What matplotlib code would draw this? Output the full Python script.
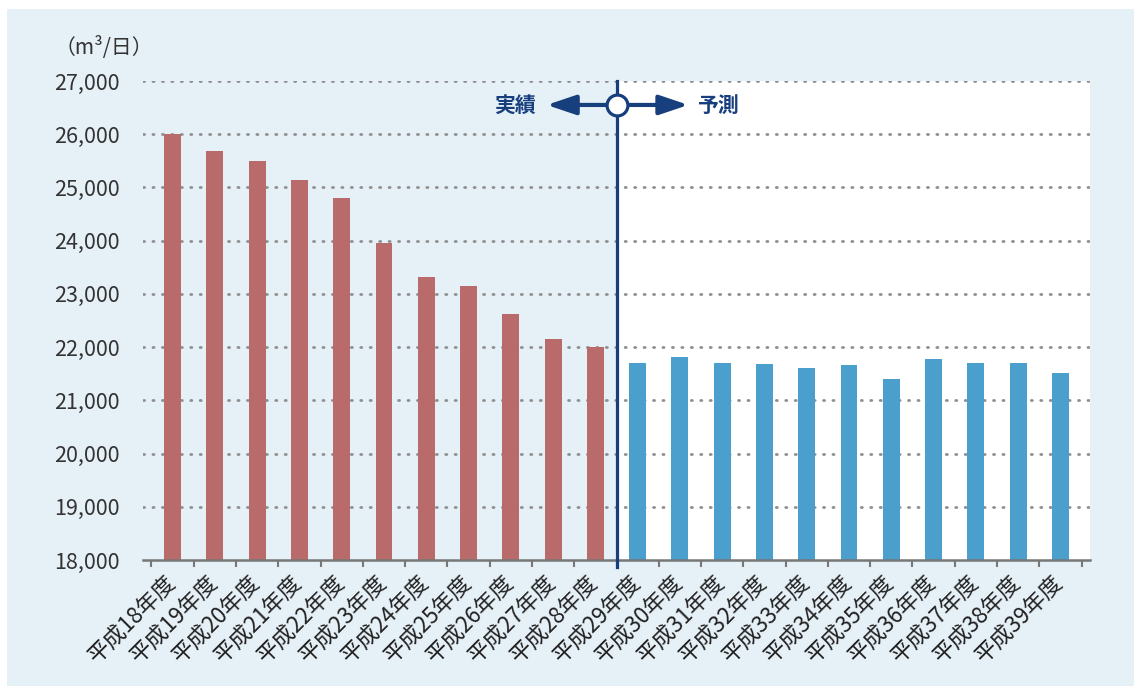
import numpy as np
import matplotlib.pyplot as plt
from matplotlib.patches import Rectangle

plt.rcParams['font.family'] = ['Noto Sans CJK JP', 'DejaVu Sans']

# 年度ラベル
years = ["平成%d年度" % n for n in range(18, 40)]
# 実績 (平成18-28年度)
actual = [26000, 25680, 25500, 25140, 24810, 23960, 23310, 23140, 22620, 22150, 22000]
# 予測 (平成29-39年度)
forecast = [21700, 21810, 21700, 21680, 21610, 21660, 21400, 21780, 21700, 21700, 21520]
yticks = [18000, 19000, 20000, 21000, 22000, 23000, 24000, 25000, 26000, 27000]

red = '#b96a6a'
blue = '#4a9fcd'
navy = '#173f7d'
bg = '#e6f0f7'

fig = plt.figure(figsize=(11.34, 6.86), dpi=100)
fig.patch.set_facecolor('white')
fig.patches.append(Rectangle((7/1134, 0), 1, 1 - 9/686, transform=fig.transFigure,
                             facecolor=bg, edgecolor='none', zorder=-10))
ax = fig.add_axes([143/1134, 1 - 560/686, (1090 - 143)/1134, (560 - 81)/686])
ax.set_facecolor(bg)

x = np.arange(len(years))
n1 = len(actual)
split = n1 - 0.5

ax.axvspan(split, 21.7, color='white', zorder=0)
for v in yticks[1:]:
    ax.axhline(v, color='#8f8f8f', lw=2, linestyle=(0, (0.4, 3.0)),
               dash_capstyle='round', zorder=1)

ax.bar(x[:n1], actual, width=0.4, color=red, zorder=2)
ax.bar(x[n1:], forecast, width=0.4, color=blue, zorder=2)

ax.set_xlim(-0.7, 21.7)
ax.set_ylim(18000, 27000)

for s in ['left', 'right', 'top']:
    ax.spines[s].set_visible(False)
ax.spines['bottom'].set_color('#777777')
ax.spines['bottom'].set_linewidth(1.8)
ax.spines['bottom'].set_zorder(4)

ax.set_yticks(yticks)
ax.set_yticklabels(["{:,}".format(v) for v in yticks], fontsize=15.5, color='#333333')
ax.tick_params(axis='y', length=0, pad=17)

ax.set_xticks(x)
ax.set_xticklabels(years, rotation=45, ha='right', va='center',
                   rotation_mode='anchor', fontsize=16, color='#222222')
ax.tick_params(axis='x', which='major', length=0, pad=14)
ax.set_xticks(np.arange(-0.5, len(years)), minor=True)
ax.tick_params(axis='x', which='minor', length=5, width=1.5, color='#777777')

# 実績/予測 区切り
ax.plot([split, split], [27000, 17870], color=navy, lw=2.3, zorder=5, clip_on=False)
ya = 26550
arrow = dict(arrowstyle='-|>,head_length=0.8,head_width=0.27', color=navy, lw=3,
             mutation_scale=22, shrinkA=0, shrinkB=0)
ax.annotate('', xy=(8.85, ya), xytext=(split, ya), arrowprops=arrow, zorder=5)
ax.annotate('', xy=(12.2, ya), xytext=(split, ya), arrowprops=arrow, zorder=5)
ax.plot([split], [ya], marker='o', ms=15, mfc='white', mec=navy, mew=2.3, zorder=6)
ax.text(8.6, ya, '実績', ha='right', va='center', fontsize=15, fontweight='bold', color=navy)
ax.text(12.4, ya, '予測', ha='left', va='center', fontsize=15, fontweight='bold', color=navy)

fig.text(55/1134, 1 - 47/686, '（m³/日）', ha='left', va='center', fontsize=15, color='#333333')

fig.savefig('out.png', dpi=100, facecolor=fig.get_facecolor())
